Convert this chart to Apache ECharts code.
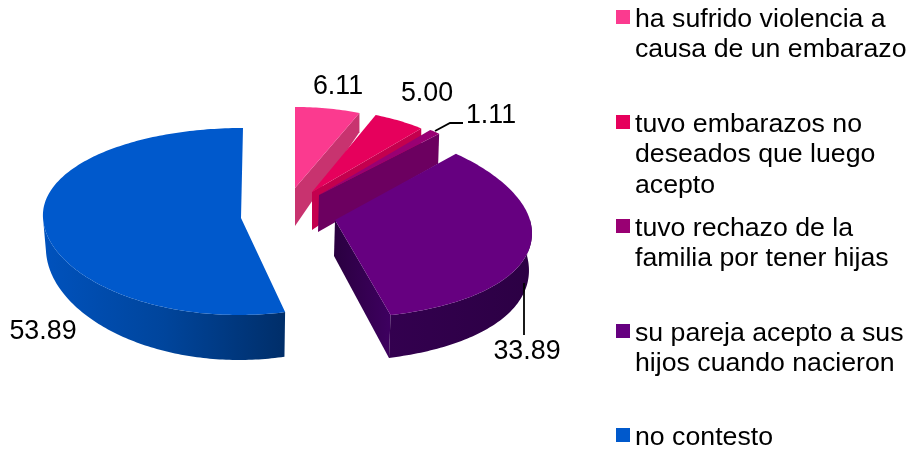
<!DOCTYPE html>
<html>
<head>
<meta charset="utf-8">
<style>html,body{margin:0;padding:0;background:#fff}#c{width:910px;height:450px}</style>
<script src="https://cdn.jsdelivr.net/npm/echarts@6/dist/echarts.min.js"></script>
</head>
<body>
<div id="c"></div>
<script>
// ---- data ----
var categories = [
  'ha sufrido violencia a causa de un embarazo',
  'tuvo embarazos no deseados que luego acepto',
  'tuvo rechazo de la familia por tener hijas',
  'su pareja acepto a sus hijos cuando nacieron',
  'no contesto'
];
var legendLines = [
  ['ha sufrido violencia a', 'causa de un embarazo'],
  ['tuvo embarazos no', 'deseados que luego', 'acepto'],
  ['tuvo rechazo de la', 'familia por tener hijas'],
  ['su pareja acepto a sus', 'hijos cuando nacieron'],
  ['no contesto']
];
var values = [6.11, 5.00, 1.11, 33.89, 53.89];

// ---- style / layout ----
var topColors  = ['#fb3a8f', '#e6005c', '#990073', '#660080', '#0059cc'];
var wallColors = ['#c8336f', '#c4004e', '#6c0060', ['#33004f', '#2c0044'], ['#0052bd', '#00459c', '#002e69']];
var cutColors  = ['#c8336f', '#c4004e', '#6c0060', ['#2a0040', '#3e0060'], null];
// perspective projection of every exploded slice
var geom = [
  {cx: 295, cy: 188, rx: 172, ryB: 81, ryF: 90, p: 0,    s: 0,   d0: 38, k: 20, bs: 1,    bx: 0},
  {cx: 312, cy: 192, rx: 170, ryB: 83, ryF: 90, p: 0,    s: 0,   d0: 38, k: 14, bs: 1,    bx: 0},
  {cx: 319, cy: 195, rx: 173, ryB: 85, ryF: 90, p: 0,    s: 0,   d0: 37, k: 10, bs: 1,    bx: -1},
  {cx: 335, cy: 220, rx: 195, ryB: 92, ryF: 98, p: .13,  s: 2.5, d0: 36, k: 7,  bs: .99,  bx: -1},
  {cx: 241, cy: 218, rx: 198, ryB: 90, ryF: 97, p: -.04, s: -2,  d0: 33, k: 12, bs: .985, bx: 0}
];
var labelPos = [[338, 86.5], [427, 93.5], [491, 115.5], [527, 351.5], [43, 331.5]];
var leaders = [null, null, [[435, 131], [450, 123], [463, 123]], [[524, 283], [524, 335]], null];
var drawOrder = [0, 1, 2, 4, 3];
var legendCenters = [17, 122, 226, 331, 435];
var FONT = '"Liberation Sans", Arial, sans-serif';
var LABEL_SIZE = 26.8, LEGEND_SIZE = 26.7, LH = 30.6, TEXT_DROP = 2.5;
// square swatch plus an empty point below it, so the text sits slightly under the swatch centre
var SWATCH = 'path://M0 0H14V14H0Z M0 ' + (14 + 2 * TEXT_DROP) + 'L0 ' + (14 + 2 * TEXT_DROP);

var total = values.reduce(function (a, b) { return a + b; }, 0);
var rad = Math.PI / 180;

function project(g, deg) {
  var t = deg * rad, c = Math.cos(t), sn = Math.sin(t);
  return [
    g.cx + g.rx * sn * (1 - g.p * c) - g.s * c,
    g.cy - (c >= 0 ? g.ryB : g.ryF) * c
  ];
}
function depth(g, deg) { return g.d0 - g.k * Math.cos(deg * rad); }
function down(g, deg, pt) {
  return [g.cx + g.bx + (pt[0] - g.cx) * g.bs, pt[1] + depth(g, deg)];
}
function gradient(c) {
  if (!Array.isArray(c)) return c;
  return new echarts.graphic.LinearGradient(0, 0, 1, 0, c.map(function (col, i) {
    return {offset: i / (c.length - 1), color: col};
  }));
}

function makeRender(idx) {
  return function (params, api) {
    var g = geom[idx], val = api.value(0), before = 0;
    for (var i = 0; i < idx; i++) before += values[i];
    var a0 = before / total * 360, a1 = (before + val) / total * 360;
    var children = [], apex = [g.cx, g.cy], apexD = [g.cx + g.bx, g.cy + g.d0];
    var endPt = project(g, a1), arc = [], deg;
    for (deg = a0; deg < a1; deg += 1) arc.push(project(g, deg));
    arc.push(endPt);

    // cut wall
    if (cutColors[idx]) {
      children.push({type: 'polygon', shape: {points: [apex, endPt, down(g, a1, endPt), apexD]},
        style: {fill: gradient(cutColors[idx]), stroke: null}});
    }
    // outer round wall, the part that faces the viewer
    var from = Math.max(a0, 90), to = Math.min(a1, 270);
    if (to > from) {
      var upper = [], lower = [];
      for (deg = from; deg <= to; deg += 1) {
        var p = project(g, deg);
        upper.push(p); lower.push(down(g, deg, p));
      }
      var pe = project(g, to);
      upper.push(pe); lower.push(down(g, to, pe));
      children.push({type: 'polygon', shape: {points: upper.concat(lower.reverse())},
        style: {fill: gradient(idx === 4 ? wallColors[idx].slice() : wallColors[idx]), stroke: null}});
    }
    // top face
    children.push({type: 'polygon', shape: {points: [apex].concat(arc)},
      style: {fill: topColors[idx], stroke: null}});
    // leader
    if (leaders[idx]) {
      children.push({type: 'polyline', shape: {points: leaders[idx]},
        style: {stroke: '#000', lineWidth: 1.8, fill: null}, z2: 5});
    }
    // value label
    children.push({type: 'text', z2: 6, style: {
      text: val.toFixed(2), x: labelPos[idx][0], y: labelPos[idx][1],
      align: 'center', verticalAlign: 'middle', font: LABEL_SIZE + 'px ' + FONT, fill: '#000'
    }});
    return {type: 'group', children: children};
  };
}

var series = drawOrder.map(function (idx, z) {
  return {
    type: 'custom', name: categories[idx], coordinateSystem: 'none',
    renderItem: makeRender(idx), data: [[values[idx]]], z: 2 + z,
    itemStyle: {color: topColors[idx]}, silent: true, clip: false
  };
});

var legends = categories.map(function (name, i) {
  var n = legendLines[i].length;
  var blanks = new Array(n - 1).fill('');
  var lineCount = 2 * n - 1;
  return {
    data: [name], orient: 'vertical', selectedMode: false, padding: 0,
    left: 616, top: legendCenters[i] + TEXT_DROP - lineCount * LH / 2,
    itemWidth: 14, itemHeight: 14 + 2 * TEXT_DROP, icon: SWATCH,
    textStyle: {fontFamily: FONT, fontSize: LEGEND_SIZE, lineHeight: LH, color: '#000'},
    formatter: function () { return blanks.concat(legendLines[i]).join('\n'); }
  };
});

var chart = echarts.init(document.getElementById('c'), null, {renderer: 'canvas'});
chart.setOption({animation: false, backgroundColor: '#fff', legend: legends, series: series});
</script>
</body>
</html>
